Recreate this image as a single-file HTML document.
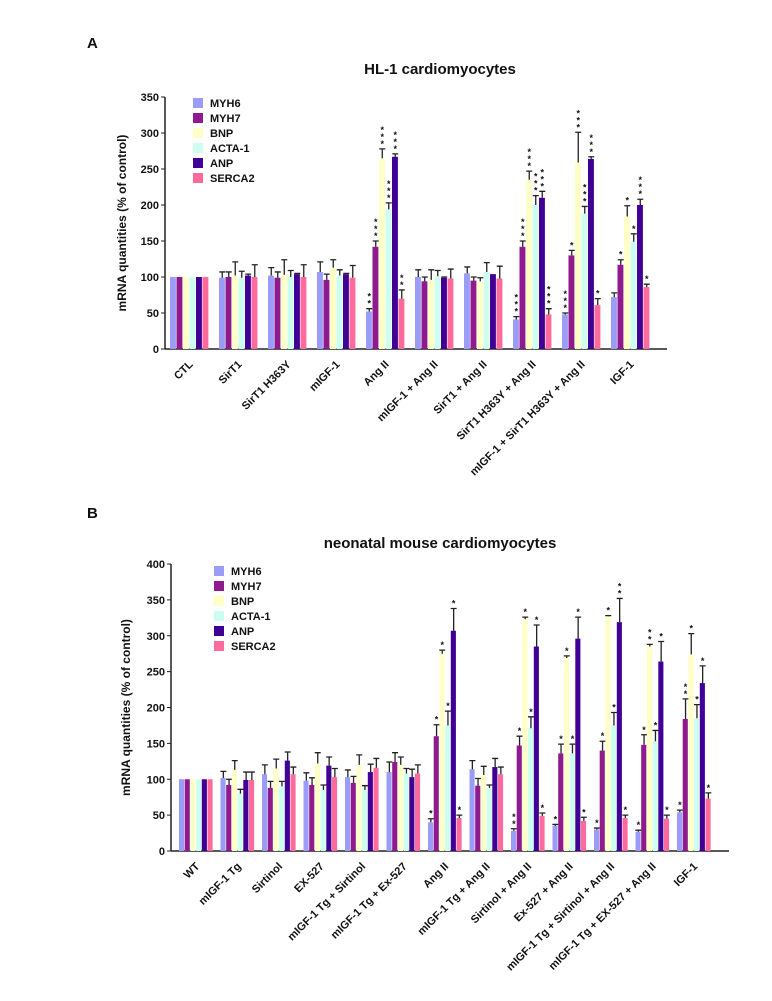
<!DOCTYPE html>
<html><head><meta charset="utf-8"><style>
body{margin:0;background:#fff;}
svg text{font-family:"Liberation Sans",Arial,sans-serif;font-weight:bold;fill:#111;}
</style></head><body>
<svg id="s" width="772" height="996" xmlns="http://www.w3.org/2000/svg">
<text x="87" y="48" font-size="15">A</text>
<text x="440" y="74" font-size="15" text-anchor="middle">HL-1 cardiomyocytes</text>
<text x="87" y="518" font-size="15">B</text>
<text x="440" y="548" font-size="15" text-anchor="middle">neonatal mouse cardiomyocytes</text>
</svg>
<script>
const series=["MYH6","MYH7","BNP","ACTA-1","ANP","SERCA2"];
const colors=["#9a9cf8","#8e1a8e","#ffffc8","#ccfff0","#400095","#ff6a9c"];
const catsA=["CTL","SirT1","SirT1 H363Y","mIGF-1","Ang II","mIGF-1 + Ang II","SirT1 + Ang II","SirT1 H363Y + Ang II","mIGF-1 + SirT1 H363Y + Ang II","IGF-1"];
const valsA=[[100,100,100,100,100,100],[99,100,102,99,102,100],[102,99,103,100,104,100],[107,96,113,102,104,99],[52,142,265,194,267,70],[100,94,96,101,99,98],[105,95,94,107,104,98],[41,142,235,200,210,48],[48,130,259,188,264,61],[72,117,184,149,200,86]];
const errA=[[100,100,100,100,100,100],[107,107,121,108,104,117],[113,107,124,109,105,117],[121,104,124,110,105,116],[56,150,278,203,271,82],[110,100,110,109,100,111],[114,100,99,120,104,115],[45,150,247,213,219,56],[50,137,301,198,267,70],[78,124,199,160,208,90]];
const starsA=[[0,0,0,0,0,0],[0,0,0,0,0,0],[0,0,0,0,0,0],[0,0,0,0,0,0],[2,3,3,3,3,2],[0,0,0,0,0,0],[0,0,0,0,0,0],[3,3,3,3,3,3],[3,1,3,3,3,1],[0,1,1,1,3,1]];
const ticksA=[0,50,100,150,200,250,300,350];
const catsB=["WT","mIGF-1 Tg","Sirtinol","EX-527","mIGF-1 Tg + Sirtinol","mIGF-1 Tg + Ex-527","Ang II","mIGF-1 Tg + Ang II","Sirtinol + Ang II","Ex-527 + Ang II","mIGF-1 Tg + Sirtinol + Ang II","mIGF-1 Tg + EX-527 + Ang II","IGF-1"];
const valsB=[[100,100,100,100,100,100],[102,92,113,80,99,99],[107,88,115,90,126,107],[98,92,122,85,119,103],[103,95,120,85,110,116],[110,124,120,108,103,108],[40,160,275,175,307,46],[114,91,106,88,117,107],[28,147,323,171,285,49],[35,136,269,136,296,42],[30,140,327,175,319,46],[27,148,285,153,264,45],[54,184,274,185,234,73]];
const errB=[[100,100,100,100,100,100],[111,100,126,86,110,110],[120,97,128,97,138,117],[109,102,137,92,131,115],[113,104,134,91,121,129],[124,137,131,115,114,120],[45,176,280,195,338,50],[126,101,118,92,129,117],[31,160,326,187,315,53],[37,149,272,149,326,47],[32,153,328,193,352,50],[29,162,288,168,292,50],[57,212,303,204,258,81]];
const starsB=[[0,0,0,0,0,0],[0,0,0,0,0,0],[0,0,0,0,0,0],[0,0,0,0,0,0],[0,0,0,0,0,0],[0,0,0,0,0,0],[1,1,1,1,1,1],[0,0,0,0,0,0],[2,1,1,1,1,1],[1,1,1,1,1,1],[1,1,1,1,2,1],[1,1,2,1,1,1],[1,2,1,1,1,1]];
const ticksB=[0,50,100,150,200,250,300,350,400];

const svg=document.getElementById('s');
const NS="http://www.w3.org/2000/svg";
function el(t,a,txt){const e=document.createElementNS(NS,t);for(const k in a)e.setAttribute(k,a[k]);if(txt!==undefined)e.textContent=txt;svg.appendChild(e);return e;}

function chart(cfg){
  const {cats,vals,errs,stars,ticks,x0,x1,y0,yTop,max,gStart,pitch,bw,legX,legY,axTitleX,p}=cfg;
  const y=v=>y0-(v/max)*(y0-yTop);
  const gx=i=>gStart+i*pitch;
  // axes
  let a=el('line',{x1:x0,y1:yTop,x2:x0,y2:y0,stroke:'#222','stroke-width':1.5});
  
  
  a=el('line',{x1:x0,y1:y0,x2:x1,y2:y0,stroke:'#222','stroke-width':1.5});
  
  
  ticks.forEach(t=>{
    let l=el('line',{x1:x0-4,y1:y(t),x2:x0,y2:y(t),stroke:'#222','stroke-width':1});
    
    
    let tx=el('text',{x:x0-6,y:y(t)+4,'font-size':11,'text-anchor':'end','font-weight':'normal'},t);
    
    
  });
  const cy=(y0+yTop)/2;
  let yt=el('text',{x:axTitleX,y:cy,'font-size':12,'text-anchor':'middle',transform:`rotate(-90 ${axTitleX} ${cy})`},'mRNA quantities (% of control)');
  
  
  cats.forEach((c,i)=>{
    vals[i].forEach((v,j)=>{
      const bx=gx(i)+j*bw;
      let r=el('rect',{x:bx,y:y(v),width:bw-0.6,height:y0-y(v),fill:colors[j]});
      
      
      const e=errs[i][j];
      if(e>v){
        const cx=bx+bw/2;
        let g=el('path',{d:`M${cx} ${y(v)}V${y(e)}M${cx-3} ${y(e)}H${cx+3}`,stroke:'#222','stroke-width':1.3,fill:'none'});
        
        
      }
      const top=y(Math.max(e,v));
      for(let k=0;k<stars[i][j];k++){
        let s=el('text',{x:bx+bw/2,y:top-2-k*7,'font-size':9,'text-anchor':'middle','font-weight':'normal'},'*');
        
        
      }
    });
    const cx=gx(i)+bw*3;
    let lt=el('text',{x:cx+4,y:y0+16,'font-size':11,'text-anchor':'end',transform:`rotate(-45 ${cx+4} ${y0+16})`},c);
    
    
  });
  series.forEach((s,j)=>{
    let r=el('rect',{x:legX,y:legY+j*15,width:10,height:10,fill:colors[j]});
    
    
    let t=el('text',{x:legX+17,y:legY+j*15+9,'font-size':11},s);
    
    
  });
}
chart({p:'a',cats:catsA,vals:valsA,errs:errA,stars:starsA,ticks:ticksA,x0:165,x1:667,y0:349,yTop:97,max:350,gStart:170,pitch:49,bw:6.5,legX:193,legY:98,axTitleX:126});
chart({p:'b',cats:catsB,vals:valsB,errs:errB,stars:starsB,ticks:ticksB,x0:171,x1:729,y0:851,yTop:564,max:400,gStart:179,pitch:41.5,bw:5.7,legX:214,legY:566,axTitleX:130});
</script>
</body></html>
